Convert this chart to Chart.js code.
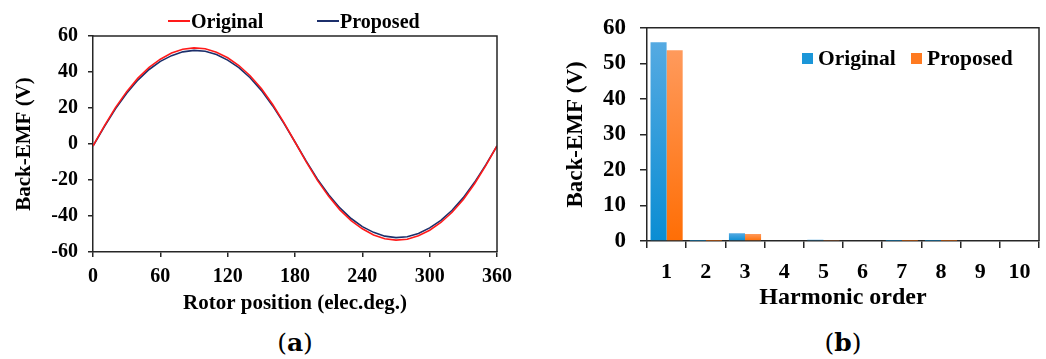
<!DOCTYPE html>
<html>
<head>
<meta charset="utf-8">
<script src="https://cdn.jsdelivr.net/npm/chart.js@4.4.0/dist/chart.umd.min.js"></script>
<style>
  body { margin: 0; background: #fff; width: 1046px; height: 359px; position: relative; overflow: hidden;
         font-family: 'Liberation Serif', 'Times New Roman', serif; color: #000; }
  canvas { position: absolute; top: 0; }
  #chartA { left: 0; }
  #chartB { left: 540px; }
  .leg { position: absolute; display: flex; align-items: center; font-weight: bold; white-space: nowrap; line-height: 1; }
  .leg .ln { display: inline-block; width: 22px; height: 2px; margin-right: 1px; }
  .leg .sq { display: inline-block; width: 11px; height: 11px; margin-right: 5px; }
  .cap { position: absolute; width: 100px; text-align: center; font-family: 'DejaVu Serif', serif; font-size: 25px; line-height: 1; }
</style>
</head>
<body>
<canvas id="chartA" width="520" height="325"></canvas>
<canvas id="chartB" width="506" height="325"></canvas>

<div class="leg" style="left:168px; top:11px; font-size:20px;"><span class="ln" style="background:#ff1a1a"></span>Original</div>
<div class="leg" style="left:317px; top:11px; font-size:20px;"><span class="ln" style="background:#1c2f6b"></span>Proposed</div>

<div class="leg" style="left:802px; top:48px; font-size:21.5px;"><span class="sq" style="background:#1b96d8"></span>Original</div>
<div class="leg" style="left:911px; top:48px; font-size:21.5px;"><span class="sq" style="background:#ff7a20"></span>Proposed</div>

<div class="cap" style="left:245px; top:330px;">(<b>a</b>)</div>
<div class="cap" style="left:793px; top:330px;">(<b>b</b>)</div>

<script>
// (a) back-EMF waveform, rotor position in electrical degrees
const angles = [0, 10, 20, 30, 40, 50, 60, 70, 80, 90, 100, 110, 120, 130, 140, 150, 160, 170, 180,
  190, 200, 210, 220, 230, 240, 250, 260, 270, 280, 290, 300, 310, 320, 330, 340, 350, 360];
const originalEmf = [-1.1, 9.9, 20.2, 29.1, 36.6, 42.6, 47.1, 50.5, 52.6, 53.4, 52.9, 51.0, 47.9, 43.6, 37.9, 30.8, 22.1, 12.0, 1.1,
  -9.9, -20.2, -29.1, -36.6, -42.6, -47.1, -50.5, -52.6, -53.4, -52.9, -51.0, -47.9, -43.6, -37.9, -30.8, -22.1, -12.0, -1.1];
const proposedEmf = [-1.1, 9.5, 19.5, 28.2, 35.5, 41.4, 45.9, 49.1, 51.2, 52.0, 51.5, 49.7, 46.6, 42.4, 36.8, 29.8, 21.3, 11.6, 1.1,
  -9.5, -19.5, -28.2, -35.5, -41.4, -45.9, -49.1, -51.2, -52.0, -51.5, -49.7, -46.6, -42.4, -36.8, -29.8, -21.3, -11.6, -1.1];

// (b) harmonic spectrum
const harmonicOrders = ['1', '2', '3', '4', '5', '6', '7', '8', '9', '10'];
const originalHarm = [55.9, 0.05, 2.2, 0, 0.35, 0, 0.05, 0.05, 0, 0];
const proposedHarm = [53.7, 0.05, 2.0, 0, 0.3, 0, 0.05, 0.06, 0, 0];

Chart.defaults.font.family = "'Liberation Serif', 'Times New Roman', serif";
Chart.defaults.font.weight = 'bold';
Chart.defaults.color = '#000';
Chart.defaults.animation = false;

const axisColor = '#262626';

// top and right edges of the plot box
const framePlugin = {
  id: 'frame',
  afterDraw(chart) {
    const { ctx, chartArea: a } = chart;
    ctx.save();
    ctx.strokeStyle = axisColor;
    ctx.lineWidth = 1.5;
    ctx.beginPath();
    ctx.moveTo(a.left, a.top);
    ctx.lineTo(a.right, a.top);
    ctx.lineTo(a.right, a.bottom);
    ctx.stroke();
    ctx.restore();
  }
};

function barFill(top, bottom) {
  return (ctx) => {
    const chart = ctx.chart;
    if (ctx.type !== 'data' || !chart.chartArea) return bottom;
    const ys = chart.scales.y;
    const y0 = ys.getPixelForValue(0);
    const y1 = ys.getPixelForValue(ctx.raw);
    if (Math.abs(y0 - y1) < 1) return bottom;
    const g = chart.ctx.createLinearGradient(0, y1, 0, y0);
    g.addColorStop(0, top);
    g.addColorStop(1, bottom);
    return g;
  };
}

new Chart(document.getElementById('chartA'), {
  type: 'line',
  data: {
    datasets: [
      {
        label: 'Original',
        data: angles.map((a, i) => ({ x: a, y: originalEmf[i] })),
        borderColor: '#ff1a1a',
        borderWidth: 1.6,
        pointRadius: 0,
        tension: 0
      },
      {
        label: 'Proposed',
        data: angles.map((a, i) => ({ x: a, y: proposedEmf[i] })),
        borderColor: '#1c2f6b',
        borderWidth: 1.6,
        pointRadius: 0,
        tension: 0
      }
    ]
  },
  options: {
    responsive: false,
    layout: { padding: { top: 36, right: 23, bottom: 0, left: 0 } },
    plugins: { legend: { display: false }, tooltip: { enabled: false } },
    scales: {
      x: {
        type: 'linear',
        min: 0,
        max: 360,
        ticks: { stepSize: 60, font: { size: 20 }, padding: 8 },
        grid: { drawOnChartArea: false, tickLength: 5, color: axisColor, lineWidth: 1.5 },
        border: { color: axisColor, width: 1.5 },
        title: { display: true, text: 'Rotor position (elec.deg.)', font: { size: 21 }, padding: { top: 0, bottom: 9 } },
        afterFit: (s) => { s.height = 73; }
      },
      y: {
        min: -60,
        max: 60,
        ticks: { stepSize: 20, font: { size: 20 }, padding: 10 },
        grid: { drawOnChartArea: false, tickLength: 5, color: axisColor, lineWidth: 1.5 },
        border: { color: axisColor, width: 1.5 },
        title: { display: true, text: 'Back-EMF (V)', font: { size: 21 }, padding: { top: 12, bottom: 0 } },
        afterFit: (s) => { s.width = 93; }
      }
    }
  },
  plugins: [framePlugin]
});

new Chart(document.getElementById('chartB'), {
  type: 'bar',
  data: {
    labels: harmonicOrders,
    datasets: [
      {
        label: 'Original',
        data: originalHarm,
        backgroundColor: barFill('#55aae2', '#0a8dd3'),
        borderWidth: 0,
        categoryPercentage: 0.82,
        barPercentage: 1
      },
      {
        label: 'Proposed',
        data: proposedHarm,
        backgroundColor: barFill('#ff9a5c', '#ff6e05'),
        borderWidth: 0,
        categoryPercentage: 0.82,
        barPercentage: 1
      }
    ]
  },
  options: {
    responsive: false,
    layout: { padding: { top: 23, right: 7, bottom: 0, left: 0 } },
    plugins: { legend: { display: false }, tooltip: { enabled: false } },
    scales: {
      x: {
        ticks: { font: { size: 22 }, padding: 11 },
        grid: { drawOnChartArea: false, tickLength: 7, color: axisColor, lineWidth: 1.5 },
        border: { color: axisColor, width: 1.5 },
        title: { display: true, text: 'Harmonic order', font: { size: 24 }, padding: { top: 0, bottom: 13 } },
        afterFit: (s) => { s.height = 84; }
      },
      y: {
        min: 0,
        max: 60,
        ticks: { stepSize: 10, font: { size: 23 }, padding: 14 },
        grid: { drawOnChartArea: false, tickLength: 7, color: axisColor, lineWidth: 1.5 },
        border: { color: axisColor, width: 1.5 },
        title: { display: true, text: 'Back-EMF (V)', font: { size: 23 }, padding: { top: 22, bottom: 0 } },
        afterFit: (s) => { s.width = 107; }
      }
    }
  },
  plugins: [framePlugin]
});
</script>
</body>
</html>
